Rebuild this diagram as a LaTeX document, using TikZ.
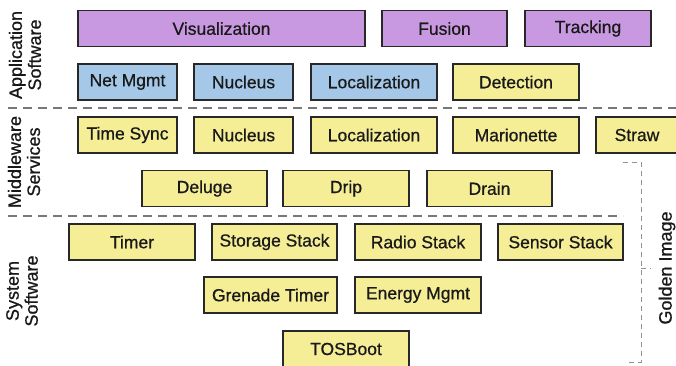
\documentclass[tikz,border=0pt]{standalone}
\usepackage{fontspec}
\setmainfont{Liberation Sans}
\newfontfamily\heavyfont{Liberation Sans}[FakeBold=0.7]
\definecolor{purp}{RGB}{200,152,225}
\definecolor{blu}{RGB}{165,200,232}
\definecolor{yel}{RGB}{245,238,150}
\definecolor{bord}{RGB}{40,40,40}
\definecolor{sepgray}{RGB}{120,120,120}
\tikzset{
  box/.style={draw=bord, line width=1.4pt, inner sep=0pt, minimum height=36pt,
     font=\heavyfont\fontsize{17.5}{19}\selectfont, text=black!90},
  pbox/.style={box, fill=purp},
  bbox/.style={box, fill=blu},
  ybox/.style={box, fill=yel},
  sep/.style={draw=sepgray, line width=1.4pt, dash pattern=on 9pt off 6pt},
  gsep/.style={draw=sepgray!80, line width=0.9pt, dash pattern=on 5pt off 4pt},
  side/.style={rotate=90, align=center, font=\heavyfont\fontsize{18}{19}\selectfont, text=black!90}
}
\begin{document}
\begin{tikzpicture}[x=1pt,y=-1pt]
\useasboundingbox (0,0) rectangle (676,366);
\fill[white] (0,0) rectangle (676,366);
% row 1
\node[pbox, minimum width=287pt] (vis) at (221.5,28.5) {Visualization};
\node[pbox, minimum width=125pt] (fus) at (444.5,28.5) {Fusion};
\node[pbox, minimum width=126pt] (trk) at (588,28.5) {Tracking};
% row 2
\node[bbox, minimum width=99pt] (net) at (127.5,82) {Net Mgmt};
\node[bbox, minimum width=99pt] (nuc1) at (243.5,82) {Nucleus};
\node[bbox, minimum width=126pt] (loc1) at (374,82) {Localization};
\node[ybox, minimum width=126pt] (det) at (516,82) {Detection};
% separator 1
\coordinate (s1a) at (8,108);
\coordinate (s1b) at (676,108);
\draw[sep] (s1a) -- (s1b);
% row 3
\node[ybox, minimum width=99pt] (ts) at (127.5,135) {Time Sync};
\node[ybox, minimum width=99pt] (nuc2) at (243.5,135) {Nucleus};
\node[ybox, minimum width=126pt] (loc2) at (374,135) {Localization};
\node[ybox, minimum width=126pt] (mar) at (516,135) {Marionette};
\node[ybox, minimum width=82pt] (str) at (637,135) {Straw};
% row 4
\node[ybox, minimum width=125pt] (del) at (204.5,188.5) {Deluge};
\node[ybox, minimum width=126pt] (drip) at (346,188.5) {Drip};
\node[ybox, minimum width=125pt] (drain) at (489.5,188.5) {Drain};
% separator 2
\coordinate (s2a) at (8,216);
\coordinate (s2b) at (623,216);
\draw[sep] (s2a) -- (s2b);
% row 5
\node[ybox, minimum width=126pt] (tim) at (132,242) {Timer};
\node[ybox, minimum width=125pt] (sto) at (274.5,242) {Storage Stack};
\node[ybox, minimum width=126pt] (rad) at (418,242) {Radio Stack};
\node[ybox, minimum width=125pt] (sen) at (560.5,242) {Sensor Stack};
% row 6
\node[ybox, minimum width=133pt] (gre) at (270.5,295) {Grenade Timer};
\node[ybox, minimum width=126pt] (ene) at (418,295) {Energy Mgmt};
% row 7
\node[ybox, minimum width=126pt] (tos) at (346,349) {TOSBoot};
% golden image bracket
\coordinate (g1) at (623,162);
\coordinate (g2) at (641,162);
\coordinate (g3) at (641,362);
\coordinate (g4) at (625,362);
\coordinate (gm) at (641,268);
\coordinate (gt) at (651,268);
\draw[gsep] (g1) -- (g2) -- (g3) -- (g4);
\draw[gsep] (gm) -- (gt);
\node[side] (gold) at (667,268) {Golden Image};
% side labels
\node[side] (app) at (25,55) {Application\\Software};
\node[side] (mid) at (24,162) {Middleware\\Services};
\node[side] (sys) at (22,291) {System\\Software};
\end{tikzpicture}
\end{document}
